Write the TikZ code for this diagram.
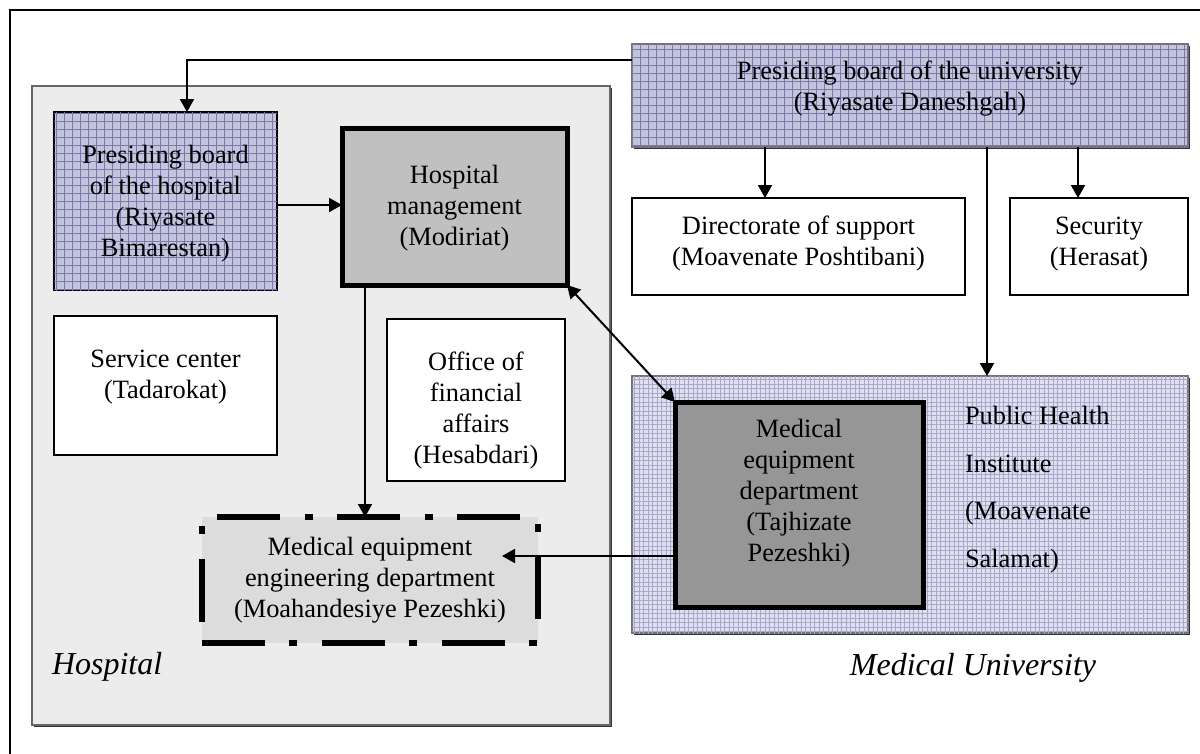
\documentclass[tikz,border=0pt]{standalone}
\usepackage{fontspec}
\setmainfont{Liberation Serif}
\usetikzlibrary{arrows.meta,patterns.meta}

\definecolor{hospbg}{HTML}{ECECEC}
\definecolor{lav}{HTML}{C4C4DA}
\definecolor{lavline}{HTML}{7878B2}
\definecolor{lavlight}{HTML}{E0E0EC}
\definecolor{lavlightline}{HTML}{A6A6CE}
\definecolor{mgmtgray}{HTML}{C0C0C0}
\definecolor{meqgray}{HTML}{969696}
\definecolor{meegray}{HTML}{DCDCDC}

\begin{document}
\begin{tikzpicture}[x=1pt,y=-1pt,
  every node/.style={inner sep=0pt,outer sep=0pt,align=center},
  txt/.style={font=\fontsize{26.4}{31}\selectfont},
  caption/.style={font=\fontsize{32}{38}\selectfont\itshape},
  shadowed/.style={preaction={fill=black!80,transform canvas={xshift=2pt,yshift=-2pt}}},
  area/.style={rectangle,draw=black!60,line width=1.2pt,fill=hospbg,shadowed},
  plainbox/.style={rectangle,draw=black,line width=2pt,fill=white},
  heavybox/.style={rectangle,draw=black,line width=5pt},
  coarsegrid/.style={fill=lav,
    postaction={pattern color=lavline,pattern={Lines[angle=0,distance=8pt,line width=0.6pt]}},
    postaction={pattern color=lavline,pattern={Lines[angle=90,distance=8pt,line width=0.6pt]}}},
  finegrid/.style={fill=lavlight,
    postaction={pattern color=lavlightline,pattern={Lines[angle=0,distance=4.5pt,line width=0.5pt]}},
    postaction={pattern color=lavlightline,pattern={Lines[angle=90,distance=4.5pt,line width=0.5pt]}}},
  dashdot/.style={line width=6pt,dash pattern=on 63pt off 25pt on 8pt off 24pt},
  conn/.style={line width=2pt,-{Triangle[length=13pt,width=14pt]}},
  biconn/.style={line width=2pt,{Triangle[length=13pt,width=14pt]}-{Triangle[length=13pt,width=14pt]}},
]
\useasboundingbox (0,0) rectangle (1200,753);
\fill[white] (0,0) rectangle (1200,753);

% page frame (top and left edges)
\draw[line width=2.2pt] (10,760) -- (10,10) -- (1210,10);

% ---------- hospital side ----------
\node[area,minimum width=578pt,minimum height=639pt] (hosp) at (321,405.5) {};

\node[rectangle,draw=black,line width=2pt,coarsegrid,
      minimum width=223pt,minimum height=178pt] (hboard) at (165.5,201) {};
\node[txt] (hboardT) at ([yshift=-3pt]hboard.center)
  {Presiding board\\of the hospital\\(Riyasate\\Bimarestan)};

\node[heavybox,fill=mgmtgray,minimum width=225pt,minimum height=157pt] (mgmt) at (454.5,206.5) {};
\node[txt] (mgmtT) at ([yshift=-2pt]mgmt.center) {Hospital\\management\\(Modiriat)};

\node[plainbox,minimum width=223pt,minimum height=139pt] (svc) at (165.5,385.5) {};
\node[txt] (svcT) at ([yshift=8.5pt]svc.center) {Service center\\(Tadarokat)};

\node[plainbox,minimum width=178pt,minimum height=162pt] (office) at (476,400) {};
\node[txt] (officeT) at ([yshift=-10.5pt]office.center) {Office of\\financial\\affairs\\(Hesabdari)};

% engineering department, dash-dot outline
\node[rectangle,fill=meegray,minimum width=336pt,minimum height=126pt] (mee) at (370,580) {};
\draw[dashdot,dash phase=105pt]
  (mee.north west) -- (mee.north east) -- (mee.south east) -- (mee.south west);
\draw[dashdot,dash phase=99pt] (mee.south west) -- (mee.north west);
\node[txt] (meeT) at (mee.center)
  {Medical equipment\\engineering department\\(Moahandesiye Pezeshki)};

\node[caption,anchor=west] (hospLabel) at (52,667) {Hospital};

% ---------- university side ----------
\node[rectangle,draw=black!55,line width=1.2pt,shadowed,coarsegrid,
      minimum width=556pt,minimum height=103pt] (uboard) at (910,95.5) {};
\node[txt] (uboardT) at ([yshift=6.5pt]uboard.center)
  {Presiding board of the university\\(Riyasate Daneshgah)};

\node[plainbox,minimum width=333pt,minimum height=97pt] (dir) at (798.5,246.5) {};
\node[txt] (dirT) at ([yshift=2.5pt]dir.center) {Directorate of support\\(Moavenate Poshtibani)};

\node[plainbox,minimum width=178pt,minimum height=97pt] (sec) at (1099,246.5) {};
\node[txt] (secT) at ([yshift=2.5pt]sec.center) {Security\\(Herasat)};

\node[rectangle,draw=black!55,line width=1.2pt,shadowed,finegrid,
      minimum width=556pt,minimum height=257pt] (ph) at (910,504.5) {};
\node[txt,align=left,anchor=west,font=\fontsize{26.4}{47.5}\selectfont] (phT) at (965,489.5)
  {Public Health\\Institute\\(Moavenate\\Salamat)};

\node[heavybox,fill=meqgray,minimum width=248pt,minimum height=205pt] (meq) at (799,504.5) {};
\node[txt] (meqT) at ([yshift=11pt]meq.center)
  {Medical\\equipment\\department\\(Tajhizate\\Pezeshki)};

\node[caption] (uniLabel) at (973,668) {Medical University};

% ---------- connectors ----------
\coordinate (ubOut) at ([yshift=-16pt]uboard.north west);
\coordinate (hbIn) at ([xshift=21.5pt]hboard.north);
\draw[conn] (ubOut) -| (hbIn);

\coordinate (dirIn) at ([xshift=-33.5pt]dir.north);
\draw[conn] (uboard.south -| dirIn) -- (dirIn);
\coordinate (secIn) at ([xshift=-21pt]sec.north);
\draw[conn] (uboard.south -| secIn) -- (secIn);
\coordinate (phIn) at ([xshift=77pt]ph.north);
\draw[conn] (uboard.south -| phIn) -- (phIn);

\coordinate (hbOut) at ([yshift=-4pt]hboard.east);
\draw[conn] (hbOut) -- (mgmt.west |- hbOut);

\coordinate (mgOut) at ([xshift=-89.5pt]mgmt.south);
\draw[conn] (mgOut) -- (mee.north -| mgOut);

\draw[biconn] (mgmt.south east) -- (meq.north west);

\coordinate (meqOut) at ([yshift=-51.5pt]meq.west);
\coordinate (meeR) at ([xshift=-36pt]mee.east);
\draw[conn] (meqOut) -- (meeR |- meqOut);
\end{tikzpicture}
\end{document}
